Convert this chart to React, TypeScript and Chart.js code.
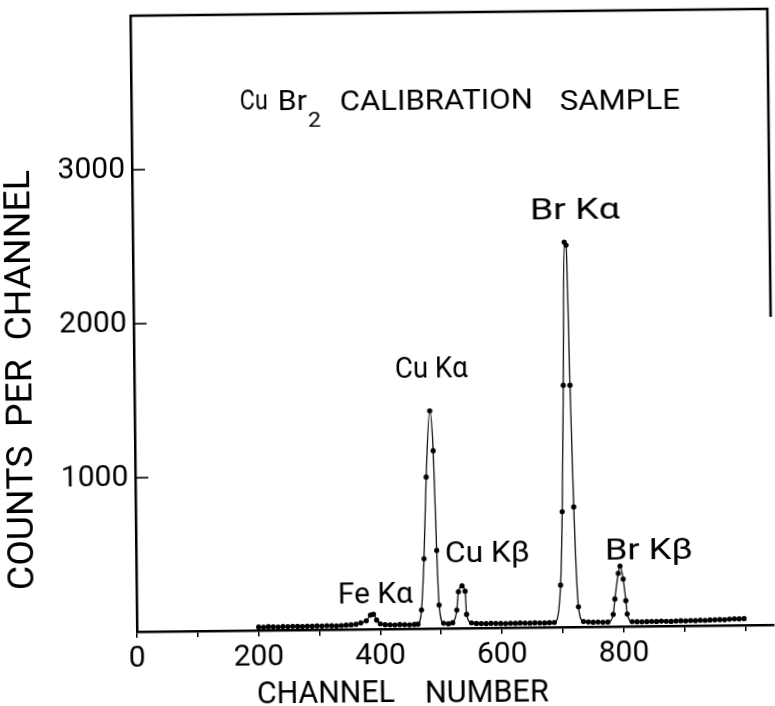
import React, { useEffect, useRef } from 'react';
import { Chart, registerables } from 'chart.js';

Chart.register(...registerables);

// Channel numbers of the plotted points
const channels = [
  200, 208, 216, 224, 232, 240, 248, 256, 264, 272, 280, 288, 296, 304, 312, 320, 328, 336, 344, 352, 360, 368,
  377, 384, 389, 394,
  400, 408, 416, 424, 432, 440, 448, 456, 462,
  468, 473, 478, 485, 490, 494, 497,
  504, 512, 519,
  526, 529, 535, 540, 542,
  550, 558, 566, 574, 582, 590, 598, 606, 614, 622, 630, 638, 646, 654, 662, 670, 678, 686,
  697, 701, 705, 709, 712, 716, 720, 726,
  734, 742, 750, 758, 766, 774,
  783, 786, 792, 795, 800, 804, 806, 814,
  822, 830, 838, 846, 854, 862, 870, 878, 886, 894, 902, 910, 918, 926, 934, 942, 950, 958, 966, 974, 982, 990, 998,
];

// Counts per channel at those channels
const counts = [
  22, 21, 23, 22, 21, 23, 22, 24, 23, 22, 24, 23, 25, 24, 26, 25, 24, 26, 28, 30, 33, 42,
  55, 92, 97, 59,
  34, 28, 27, 26, 28, 27, 26, 28, 30,
  121, 454, 984, 1414, 1155, 507, 152,
  34, 30, 36,
  118, 237, 275, 240, 90,
  34, 30, 29, 28, 30, 29, 28, 27, 29, 28, 30, 29, 28, 30, 29, 28, 30, 31,
  273, 750, 1570, 2500, 2480, 1570, 780, 131,
  35, 32, 30, 31, 29, 30,
  79, 179, 345, 393, 308, 168, 81, 31,
  30, 29, 30, 31, 30, 32, 31, 30, 32, 33, 32, 34, 33, 35, 34, 36, 37, 38, 37, 40, 42, 41, 43,
];

const xTickMarks = [100, 200, 300, 400, 500, 600, 700, 800, 900, 1000];
const xTickLabels = [0, 200, 400, 600, 800];
const yTickValues = [1000, 2000, 3000];

const peakNames = ['Fe K\u03B1', 'Cu K\u03B1', 'Cu K\u03B2', 'Br K\u03B1', 'Br K\u03B2'];

const FONT = 'Roboto, "Liberation Sans", sans-serif';

// draw text starting at (x, baseline) stretched to a given width
function fitText(ctx: CanvasRenderingContext2D, text: string, x: number, y: number, width: number, size: number) {
  ctx.font = `${size}px ${FONT}`;
  const w = ctx.measureText(text).width;
  ctx.save();
  ctx.translate(x, y);
  ctx.scale(width / w, 1);
  ctx.textAlign = 'left';
  ctx.textBaseline = 'alphabetic';
  ctx.fillText(text, 0, 0);
  ctx.restore();
}

const decorations = {
  id: 'decorations',
  afterDraw(chart: any) {
    const { ctx, chartArea: a, scales } = chart;
    ctx.save();
    ctx.strokeStyle = '#000';
    ctx.fillStyle = '#000';
    ctx.lineWidth = 2.5;
    ctx.beginPath();
    ctx.moveTo(a.left, a.top);
    ctx.lineTo(a.right, a.top);
    ctx.lineTo(a.right, scales.y.getPixelForValue(2000));
    ctx.stroke();

    // inward y ticks
    ctx.lineWidth = 1.6;
    yTickValues.forEach((v) => {
      const y = scales.y.getPixelForValue(v);
      ctx.beginPath();
      ctx.moveTo(a.left, y);
      ctx.lineTo(a.left + 13, y);
      ctx.stroke();
    });

    // chart title
    fitText(ctx, 'Cu', 242.6, 108.4, 28, 28);
    fitText(ctx, 'Br', 280.6, 108.8, 29, 28);
    fitText(ctx, '2', 310.4, 126.1, 13, 20);
    fitText(ctx, 'CALIBRATION', 342.6, 109.5, 193, 28);
    fitText(ctx, 'SAMPLE', 562.6, 111.9, 120, 28);

    // axis titles
    fitText(ctx, 'CHANNEL', 253.2, 701.6, 138, 32);
    fitText(ctx, 'NUMBER', 421.2, 703.4, 124, 32);
    ctx.save();
    ctx.translate(31.4, 586.2);
    ctx.rotate(-Math.PI / 2);
    fitText(ctx, 'COUNTS  PER  CHANNEL', 0, 0, 420, 36);
    ctx.restore();

    // peak labels
    const px = [335.3, 394.7, 442.7, 531.4, 602.8];
    const py = [602.5, 378.1, 562.6, 220.5, 562.3];
    const pw = [75, 73, 85, 90, 88];
    peakNames.forEach((name, i) => fitText(ctx, name, px[i], py[i], pw[i], 30));
    ctx.restore();
  },
};

export default function App() {
  const ref = useRef<HTMLCanvasElement | null>(null);
  useEffect(() => {
    if (!ref.current) return;
    const chart = new Chart(ref.current, {
      type: 'line',
      data: {
        datasets: [
          {
            data: channels.map((c, i) => ({ x: c, y: counts[i] })),
            borderColor: '#111',
            borderWidth: 1.3,
            pointRadius: 2.6,
            pointBorderWidth: 0,
            pointBackgroundColor: '#000',
            cubicInterpolationMode: 'monotone',
            fill: false,
          },
        ],
      },
      options: {
        animation: false,
        responsive: false,
        layout: { padding: { left: 0, top: 13, right: 0, bottom: 0 } },
        plugins: { legend: { display: false }, tooltip: { enabled: false }, title: { display: false } },
        scales: {
          x: {
            type: 'linear',
            min: 0,
            max: 1047,
            afterFit: (s: any) => { s.height = 77; s.paddingLeft = 0; s.paddingRight = 0; },
            afterBuildTicks: (s: any) => { s.ticks = [0, ...xTickMarks].map((v) => ({ value: v })); },
            border: { display: true, color: '#000', width: 2.5 },
            grid: { display: true, drawOnChartArea: false, drawTicks: true, tickLength: 6, color: '#000', lineWidth: 1.5 },
            ticks: {
              autoSkip: false,
              maxRotation: 0,
              padding: 3,
              color: '#000',
              font: { family: FONT, size: 30 },
              callback: (v: any) => (xTickLabels.includes(Number(v)) ? String(v) : ''),
            },
          },
          y: {
            type: 'linear',
            min: 0,
            max: 4000,
            afterFit: (s: any) => { s.width = 134; s.paddingTop = 0; s.paddingBottom = 0; },
            afterBuildTicks: (s: any) => { s.ticks = yTickValues.map((v) => ({ value: v })); },
            border: { display: true, color: '#000', width: 2.5 },
            grid: { display: false, drawTicks: false },
            ticks: {
              padding: 7,
              color: '#000',
              font: { family: FONT, size: 30 },
              callback: (v: any) => String(v),
            },
          },
        },
      },
      plugins: [decorations],
    } as any);
    return () => chart.destroy();
  }, []);
  return (
    <div style={{ position: 'fixed', left: 0, top: 0, width: 775, height: 706, background: '#fff', overflow: 'hidden' }}>
      <canvas
        ref={ref}
        width={775}
        height={706}
        style={{ display: 'block', transform: 'rotate(-0.62deg)', transformOrigin: '387.5px 353px' }}
      />
    </div>
  );
}
